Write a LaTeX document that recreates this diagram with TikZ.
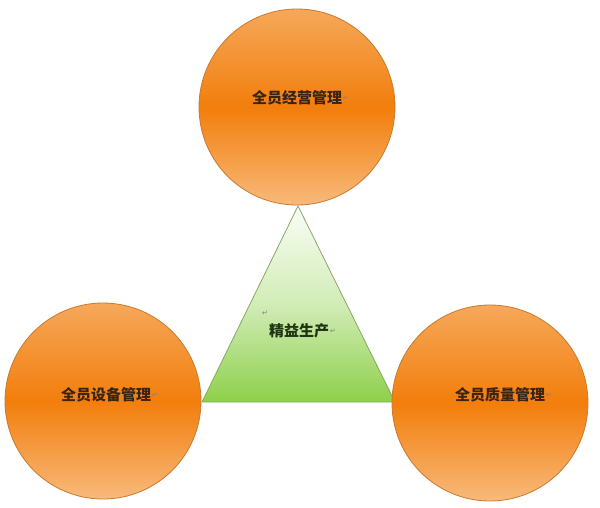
\documentclass[tikz,border=0pt]{standalone}
\usepackage{fontspec}
\usepackage{tikz}
\newfontfamily\cjk{Noto Sans CJK SC}
\newfontfamily\symfont{DejaVu Sans}
\definecolor{leanorange}{HTML}{F27E0C}
\definecolor{leanlight}{HTML}{F6A85A}
\definecolor{leanedge}{HTML}{C97A30}
\definecolor{leangreen}{HTML}{8ED04A}
\definecolor{leanpale}{HTML}{FAFDF5}
\definecolor{leanline}{HTML}{86A864}
\definecolor{leantext}{HTML}{3A2414}
\definecolor{leandark}{HTML}{1E3412}
\usetikzlibrary{positioning}

\begin{document}
\begin{tikzpicture}[x=1pt, y=-1pt,
  ball/.style={circle, minimum size=196pt, inner sep=0pt, draw=leanedge, line width=0.8pt,
    top color=leanlight, bottom color=leanlight!80!white, middle color=leanorange},
  balltext/.style={font=\cjk\bfseries\fontsize{15}{17}\selectfont, text=leantext, inner sep=0pt},
  retmark/.style={font=\symfont\fontsize{7}{7}\selectfont, text=gray, inner sep=0.5pt}]
\useasboundingbox[fill=white] (0,0) rectangle (600,507);

% Triangle in the middle
\coordinate (apex) at (298,206);
\coordinate (baseL) at (202,402);
\coordinate (baseR) at (395,402);
\shade[top color=leanpale, bottom color=leangreen, middle color=leangreen!40!white,
  draw=leanline, line width=0.8pt] (apex) -- (baseL) -- (baseR) -- cycle;
\node[balltext, text=leandark] (lean) at (299,331) {精益生产};
\node[retmark, right=0pt of lean] (leanret) {↵};
\node[retmark] (strayret) at (265,313) {↵};

% Three circles
\node[ball] (jy) at (297,107) {};
\node[ball] (sb) at (103,401) {};
\node[ball] (zl) at (490,403) {};

% Circle texts
\node[balltext] (jyt) at (297,98) {全员经营管理};
\node[balltext] (sbt) at (106,395) {全员设备管理};
\node[balltext] (zlt) at (500,395) {全员质量管理};
\foreach \t in {jyt, sbt, zlt} {
    \node[retmark, right=0pt of \t] {↵};
}
\end{tikzpicture}
\end{document}
